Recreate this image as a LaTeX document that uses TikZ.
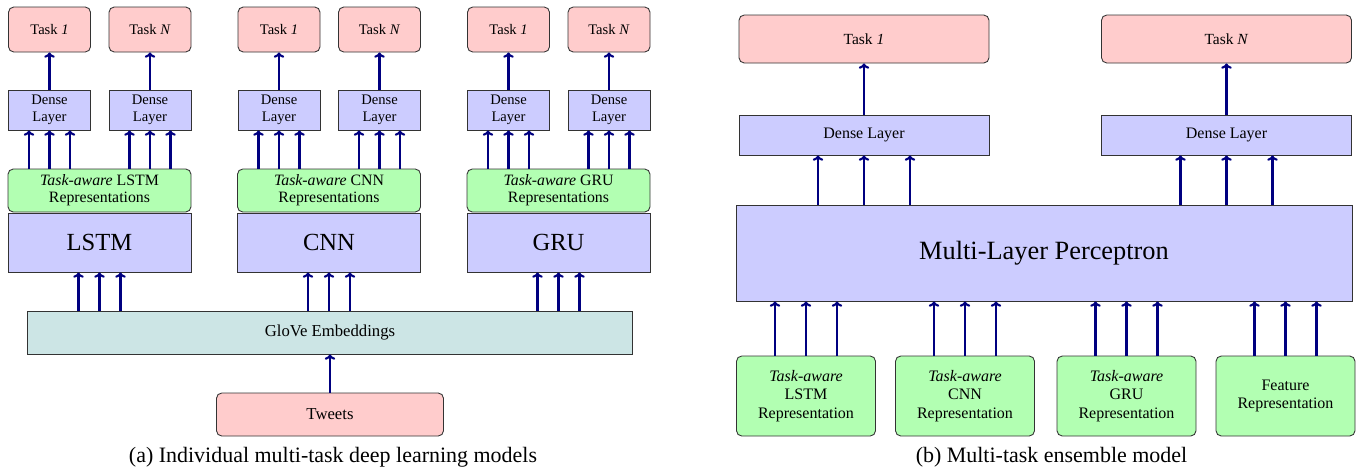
\documentclass[tikz,border=0pt]{standalone}
\usepackage{fontspec}
\setmainfont{Liberation Serif}
\usetikzlibrary{arrows.meta}
\newcommand{\tk}[1]{Task \textit{#1}}
\newcommand{\tka}{\textit{Task-aware}}

\begin{document}
\begin{tikzpicture}[
    box/.style={draw=black!80, line width=0.5pt, align=center, inner sep=0pt},
    taskbox/.style={box, rounded corners=3pt, fill=red!20},
    densebox/.style={box, fill=blue!20},
    repbox/.style={box, rounded corners=3pt, fill=green!30},
    arr/.style={-{To[length=3pt,width=6pt]}, line width=1.2pt, blue!50!black}]
  \useasboundingbox (0,0) rectangle (27.16,-9.4);

  % (a) one column for each model
  \foreach \p/\m/\n in {0/LSTM/l, 4.59/CNN/c, 9.18/GRU/g} {
    \node[taskbox, minimum width=1.64cm, minimum height=0.9cm, font=\fontsize{8.3}{9.8}\selectfont] (t1\n) at (\p+0.99,-0.59) {\tk{1}};
    \node[taskbox, minimum width=1.64cm, minimum height=0.9cm, font=\fontsize{8.3}{9.8}\selectfont] (tN\n) at (\p+3.00,-0.59) {\tk{N}};
    \node[densebox, minimum width=1.64cm, minimum height=0.8cm, font=\fontsize{8.3}{9.8}\selectfont] (d1\n) at (\p+0.99,-2.2) {Dense\\Layer};
    \node[densebox, minimum width=1.64cm, minimum height=0.8cm, font=\fontsize{8.3}{9.8}\selectfont] (dN\n) at (\p+3.00,-2.2) {Dense\\Layer};
    \node[repbox, minimum width=3.66cm, minimum height=0.86cm, font=\fontsize{9}{9.8}\selectfont] (r\n) at (\p+1.99,-3.81) {\tka{} \m\\Representations};
    \node[densebox, minimum width=3.66cm, minimum height=1.18cm, font=\fontsize{14}{16}\selectfont] (m\n) at (\p+1.99,-4.85) {\m};

    \draw[arr] (d1\n) -- (t1\n);
    \draw[arr] (dN\n) -- (tN\n);
    \foreach \s in {-0.41,0,0.41} {
      \draw[arr] ([xshift=\s cm]d1\n.south |- r\n.north) -- ([xshift=\s cm]d1\n.south);
      \draw[arr] ([xshift=\s cm]dN\n.south |- r\n.north) -- ([xshift=\s cm]dN\n.south);
    }
  }

  \node[box, fill=teal!20, minimum width=12.1cm, minimum height=0.86cm, font=\fontsize{9.5}{11}\selectfont] (glove) at (6.6,-6.65) {GloVe Embeddings};
  \node[taskbox, minimum width=4.54cm, minimum height=0.86cm, font=\fontsize{9.5}{11}\selectfont] (tweets) at (6.6,-8.29) {Tweets};
  \draw[arr] (tweets) -- (glove);
  \foreach \n in {l,c,g}
    \foreach \s in {-0.42,0,0.42}
      \draw[arr] ([xshift=\s cm]m\n.south |- glove.north) -- ([xshift=\s cm]m\n.south);

  \node[font=\fontsize{12.5}{14}\selectfont] (capa) at (6.66,-9.14) {(a) Individual multi-task deep learning models};

  % (b) ensemble
  \node[taskbox, minimum width=5.0cm, minimum height=0.96cm, font=\fontsize{8.8}{10}\selectfont] (bt1) at (17.28,-0.78) {\tk{1}};
  \node[taskbox, minimum width=5.0cm, minimum height=0.96cm, font=\fontsize{8.8}{10}\selectfont] (btN) at (24.53,-0.78) {\tk{N}};
  \node[densebox, minimum width=5.0cm, minimum height=0.8cm, font=\fontsize{9.1}{10}\selectfont] (bd1) at (17.28,-2.7) {Dense Layer};
  \node[densebox, minimum width=5.0cm, minimum height=0.8cm, font=\fontsize{9.1}{10}\selectfont] (bdN) at (24.53,-2.7) {Dense Layer};
  \node[densebox, minimum width=12.32cm, minimum height=1.92cm, font=\fontsize{15}{17}\selectfont] (mlp) at (20.88,-5.06) {Multi-Layer Perceptron};

  \node[repbox, minimum width=2.78cm, minimum height=1.6cm, font=\fontsize{9.1}{10.7}\selectfont] (g1) at (16.12,-7.92) {\tka\\LSTM\\Representation};
  \node[repbox, minimum width=2.78cm, minimum height=1.6cm, font=\fontsize{9.1}{10.7}\selectfont] (g2) at (19.30,-7.92) {\tka\\CNN\\Representation};
  \node[repbox, minimum width=2.78cm, minimum height=1.6cm, font=\fontsize{9.1}{10.7}\selectfont] (g3) at (22.53,-7.92) {\tka\\GRU\\Representation};
  \node[repbox, minimum width=2.78cm, minimum height=1.6cm, font=\fontsize{9.1}{10.7}\selectfont] (g4) at (25.71,-7.92) {Feature\\Representation};

  \draw[arr] (bd1) -- (bt1);
  \draw[arr] (bdN) -- (btN);
  \foreach \s in {-0.92,0,0.92} {
    \draw[arr] ([xshift=\s cm]bd1.south |- mlp.north) -- ([xshift=\s cm]bd1.south);
    \draw[arr] ([xshift=\s cm]bdN.south |- mlp.north) -- ([xshift=\s cm]bdN.south);
  }
  \foreach \g in {g1,g2,g3,g4}
    \foreach \s in {-0.62,0,0.62}
      \draw[arr] ([xshift=\s cm]\g.north) -- ([xshift=\s cm]\g.north |- mlp.south);

  \node[font=\fontsize{12.5}{14}\selectfont] (capb) at (21.03,-9.14) {(b) Multi-task ensemble model};
\end{tikzpicture}
\end{document}
